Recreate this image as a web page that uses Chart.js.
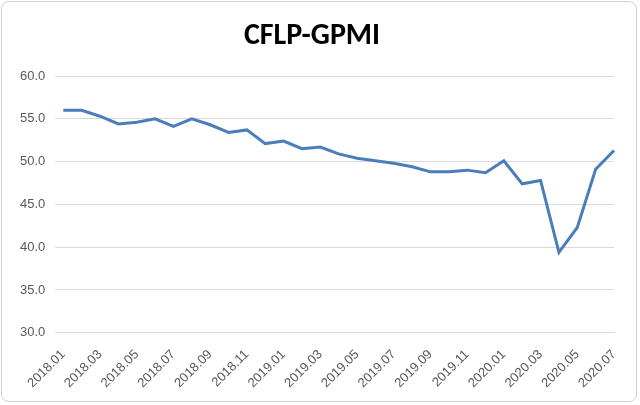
<!DOCTYPE html>
<html>
<head>
<script src="https://cdn.jsdelivr.net/npm/chart.js@4"></script>
<style>
  body { margin: 0; background: #fff; }
  #wrap { position: absolute; left: 1px; top: 1px; width: 636px; height: 401px; border: 1px solid #d0d0d0; border-radius: 8px; box-sizing: border-box; }
</style>
</head>
<body>
<div id="wrap"><canvas id="gpmiChart"></canvas></div>
<script>
// months 2018.01 .. 2020.07
const months = [];
for (let y = 2018; y <= 2020; y++) {
  for (let m = 1; m <= 12; m++) {
    if (y === 2020 && m > 7) break;
    months.push(y + '.' + String(m).padStart(2, '0'));
  }
}
const gpmiValues = [56.0, 56.0, 55.3, 54.4, 54.6, 55.0, 54.1, 55.0, 54.3, 53.4,
  53.7, 52.1, 52.4, 51.5, 51.7, 50.9, 50.4, 50.1, 49.8, 49.4,
  48.8, 48.8, 49.0, 48.7, 50.1, 47.4, 47.8, 39.4, 42.3, 49.1, 51.3];

const ctx = document.getElementById('gpmiChart').getContext('2d');
new Chart(ctx, {
  type: 'line',
  data: {
    labels: months,
    datasets: [{
      label: 'CFLP-GPMI',
      data: gpmiValues,
      borderColor: '#4a7ebb',
      borderWidth: 3,
      pointRadius: 0,
      tension: 0,
    }]
  },
  options: {
    responsive: true,
    maintainAspectRatio: false,
    animation: false,
    layout: { padding: { left: 8, right: 22, top: 6, bottom: 4 } },
    plugins: {
      legend: { display: false },
      title: {
        display: true,
        text: 'CFLP-GPMI',
        color: '#000',
        font: { family: 'Calibri, Carlito, "Liberation Sans", sans-serif', size: 30, weight: 'bold' },
        padding: { top: 10, bottom: 22 }
      }
    },
    scales: {
      x: {
        grid: { display: false },
        border: { color: '#d9d9d9' },
        ticks: {
          color: '#595959',
          font: { size: 13 },
          padding: 6,
          maxRotation: 45, minRotation: 45,
          autoSkip: false,
          callback: function (v, i) { return i % 2 === 0 ? this.getLabelForValue(v) : ''; }
        }
      },
      y: {
        min: 30, max: 60,
        border: { display: false },
        grid: { color: '#d9d9d9' },
        ticks: {
          stepSize: 5,
          color: '#595959',
          font: { size: 13 },
          padding: 10,
          callback: v => v.toFixed(1)
        }
      }
    }
  }
});
</script>
</body>
</html>
